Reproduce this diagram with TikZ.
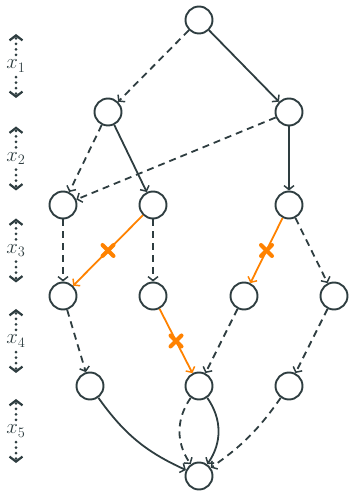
\documentclass[tikz,border=0pt]{standalone}
\usetikzlibrary{arrows.meta}
\definecolor{dk}{HTML}{2E3D40}
\definecolor{orng}{HTML}{FF8200}
\begin{document}
\begin{tikzpicture}[x=1pt,y=1pt,
  st/.style={circle,draw=dk,line width=1.9pt,minimum size=27pt,inner sep=0pt},
  tip/.style={-{Straight Barb[length=4pt,width=10pt,line width=1.5pt]}},
  e/.style={draw=dk,line width=1.8pt,tip},
  de/.style={e,dash pattern=on 7pt off 5pt},
  oe/.style={draw=orng,line width=1.8pt,tip},
  crossmark/.style={draw=orng,line width=4pt,line cap=round},
  lab/.style={text=dk,font=\fontsize{21}{24}\selectfont,inner sep=1pt},
  ax/.style={draw=dk,line width=3pt,line cap=round,dash pattern=on 0pt off 5.5pt,
    -{Straight Barb[length=5pt,width=13pt,line width=2.2pt]}}
  ]
\useasboundingbox (0,0) rectangle (349,493);
% nodes
\node[st] (n0) at (199,473) {};
\node[st] (n1a) at (108,381) {};
\node[st] (n1b) at (289,381) {};
\node[st] (n2a) at (63,288) {};
\node[st] (n2b) at (153,288) {};
\node[st] (n2c) at (289,288) {};
\node[st] (n3a) at (63,197) {};
\node[st] (n3b) at (153,197) {};
\node[st] (n3c) at (244,197) {};
\node[st] (n3d) at (334,197) {};
\node[st] (n4a) at (90,107) {};
\node[st] (n4b) at (199,107) {};
\node[st] (n4c) at (289,107) {};
\node[st] (n5) at (199,17) {};
% edges
\draw[de] (n0) -- (n1a);
\draw[e] (n0) -- (n1b);
\draw[de] (n1a) -- (n2a);
\draw[e] (n1a) -- (n2b);
\draw[de] (n1b) -- (n2a);
\draw[e] (n1b) -- (n2c);
\draw[de] (n2a) -- (n3a);
\draw[oe] (n2b) -- coordinate[pos=0.5] (c1) (n3a);
\draw[de] (n2b) -- (n3b);
\draw[oe] (n2c) -- coordinate[pos=0.5] (c2) (n3c);
\draw[de] (n2c) -- (n3d);
\draw[de] (n3a) -- (n4a);
\draw[oe] (n3b) -- coordinate[pos=0.5] (c3) (n4b);
\draw[de] (n3c) -- (n4b);
\draw[de] (n3d) -- (n4c);
\draw[e] (n4a) to[bend right=15] (n5);
\draw[de] (n4b) to[bend right=35] (n5);
\draw[e] (n4b) to[bend left=35] (n5);
\draw[de] (n4c) to[bend left=10] (n5);
% cross marks
\foreach \c in {c1,c2,c3}{
  \draw[crossmark] (\c) +(-5.5,-5.5) -- +(5.5,5.5);
  \draw[crossmark] (\c) +(-5.5,5.5) -- +(5.5,-5.5);
}
% axis
\foreach \i/\y in {1/427,2/334.5,3/242.5,4/152,5/62}{
  \node[lab] (l\i) at (16,\y) {$x_{\i}$};
  \coordinate (u\i) at (16,\y+32);
  \coordinate (d\i) at (16,\y-32);
  \draw[ax] ([yshift=4pt]l\i.north) -- (u\i);
  \draw[ax] ([yshift=-4pt]l\i.south) -- (d\i);
}
\end{tikzpicture}
\end{document}
